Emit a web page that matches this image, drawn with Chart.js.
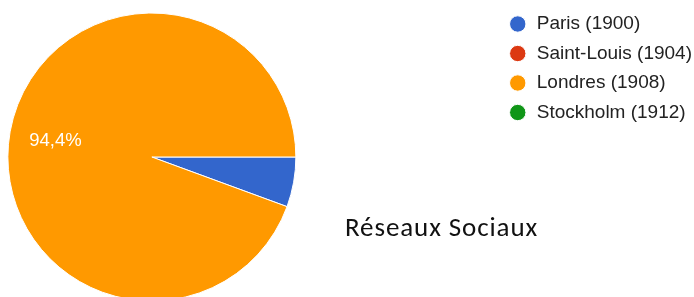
<!DOCTYPE html>
<html>
<head>
<meta charset="utf-8">
<script src="https://cdn.jsdelivr.net/npm/chart.js@4/dist/chart.umd.min.js"></script>
<style>
  html, body { margin: 0; padding: 0; background: #fff; width: 694px; height: 297px; overflow: hidden; }
  #wrap { position: relative; width: 694px; height: 297px; overflow: hidden; }
  #pie { position: absolute; left: -194px; top: 0; }
  #caption {
    position: absolute; left: 345px; top: 213px;
    font-family: Carlito, Calibri, Lato, sans-serif; font-size: 27px; line-height: 27px;
    letter-spacing: 0.9px; color: #111; white-space: nowrap;
  }
</style>
</head>
<body>
<div id="wrap">
  <canvas id="pie" width="896" height="310"></canvas>
  <div id="caption">Réseaux Sociaux</div>
</div>
<script>
// Olympic host cities, share of answers (%)
const cities = ['Paris (1900)', 'Saint-Louis (1904)', 'Londres (1908)', 'Stockholm (1912)'];
const shares = [5.6, 0, 94.4, 0];
const colors = ['#3366cc', '#dc3912', '#ff9900', '#109618'];

// writes the percentage inside slices big enough to hold it
const sliceLabels = {
  id: 'sliceLabels',
  afterDatasetsDraw(chart) {
    const ctx = chart.ctx;
    const meta = chart.getDatasetMeta(0);
    const total = shares.reduce((a, b) => a + b, 0);
    meta.data.forEach((arc, i) => {
      const pct = shares[i] / total * 100;
      if (pct < 10) return;
      const mid = (arc.startAngle + arc.endAngle) / 2;
      const r = arc.outerRadius * 0.68;
      ctx.save();
      ctx.fillStyle = '#fff';
      ctx.font = '18.5px "Liberation Sans", Arial, sans-serif';
      ctx.textAlign = 'center';
      ctx.textBaseline = 'middle';
      ctx.fillText(pct.toFixed(1).replace('.', ',') + '%', arc.x + Math.cos(mid) * r, arc.y + Math.sin(mid) * r + 1.5);
      ctx.restore();
    });
  }
};

new Chart(document.getElementById('pie'), {
  type: 'pie',
  data: {
    labels: cities,
    datasets: [{
      data: shares,
      backgroundColor: colors,
      borderColor: '#fff',
      borderWidth: 1,
    }]
  },
  options: {
    responsive: false,
    animation: false,
    rotation: 90,
    radius: 144,
    layout: { padding: { top: 4 } },
    plugins: {
      tooltip: { enabled: false },
      legend: {
        position: 'right',
        align: 'start',
        labels: {
          usePointStyle: true,
          pointStyle: 'circle',
          boxWidth: 19,
          boxHeight: 11.6,
          padding: 10.5,
          color: '#222',
          font: { family: '"Liberation Sans", Arial, sans-serif', size: 19 }
        }
      }
    }
  },
  plugins: [sliceLabels]
});
</script>
</body>
</html>
